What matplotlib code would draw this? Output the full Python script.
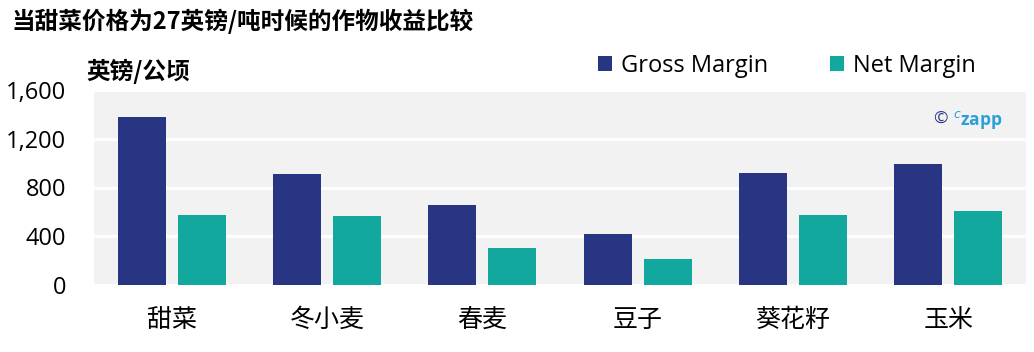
import numpy as np
import matplotlib
matplotlib.use("Agg")
import matplotlib.pyplot as plt
from matplotlib.ticker import FuncFormatter

plt.rcParams['font.family'] = ['Open Sans', 'Noto Sans CJK SC', 'DejaVu Sans']

crops = ["甜菜", "冬小麦", "春麦", "豆子", "葵花籽", "玉米"]
gross_margin = [1380, 914, 653, 416, 922, 996]
net_margin = [571, 563, 302, 212, 571, 604]

gross_color = "#283583"
net_color = "#12A89D"

fig = plt.figure(figsize=(10.34, 3.52), dpi=100)
ax = fig.add_axes([94 / 1034, 1 - 285 / 352, 932 / 1034, 195 / 352])
ax.set_facecolor("#F2F2F2")

x = np.arange(len(crops))
w = 0.31
off = 0.193
ax.bar(x - off, gross_margin, w, color=gross_color, label="Gross Margin", zorder=3)
ax.bar(x + off, net_margin, w, color=net_color, label="Net Margin", zorder=3)

ax.set_xlim(-0.5, len(crops) - 0.5)
ax.set_ylim(0, 1590)
ax.set_yticks([0, 400, 800, 1200, 1600])
ax.yaxis.set_major_formatter(FuncFormatter(lambda v, p: "{:,.0f}".format(v)))
ax.grid(axis="y", color="white", linewidth=2, zorder=1)
ax.set_axisbelow(True)
for s in ax.spines.values():
    s.set_visible(False)
ax.tick_params(axis="both", length=0)
ax.tick_params(axis="y", labelsize=17, pad=20)
ax.set_xticks(x)
ax.set_xticklabels(crops, fontsize=18, family=['Noto Sans CJK SC'], fontweight='light')
ax.tick_params(axis="x", pad=16)

fig.text(12 / 1034, 1 - 21 / 352, "当甜菜价格为27英镑/吨时候的作物收益比较", fontsize=17,
         fontweight="bold", va="center", ha="left", family=['Noto Sans CJK SC'])
fig.text(86 / 1034, 1 - 71 / 352, "英镑/公顷", fontsize=17, fontweight="bold",
         va="center", ha="left", family=['Noto Sans CJK SC'])

fig.legend(loc="center", bbox_to_anchor=(787 / 1034, 1 - 66 / 352), ncol=2, frameon=False,
           fontsize=17, handlelength=0.6, handleheight=0.6, handletextpad=0.4,
           columnspacing=2.6)

fig.text(953 / 1034, 1 - 120 / 352, "© ", ha="right", va="center",
         fontsize=12.5, color=gross_color)
fig.text(953 / 1034, 1 - 120 / 352, "$^{c}$zapp", ha="left", va="center",
         fontsize=12.5, color="#2A9FD8", fontweight="bold")

fig.savefig("out.png", dpi=100)
